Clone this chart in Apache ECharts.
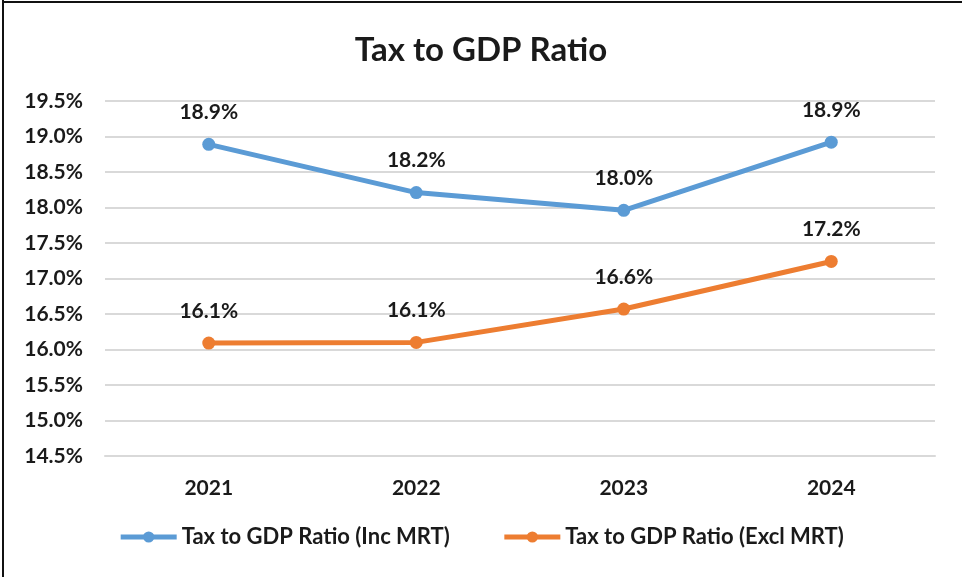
<!DOCTYPE html>
<html>
<head>
<meta charset="utf-8">
<script src="https://cdn.jsdelivr.net/npm/echarts@6/dist/echarts.min.js"></script>
<style>
html,body{margin:0;padding:0;background:#fff;}
#c{width:962px;height:577px;}
</style>
</head>
<body>
<div id="c"></div>
<script>
const categories = ['2021', '2022', '2023', '2024'];
const incMRT = [18.89, 18.21, 17.96, 18.92];
const exclMRT = [16.09, 16.10, 16.57, 17.24];
const seriesNames = ['Tax to GDP Ratio (Inc MRT)', 'Tax to GDP Ratio (Excl MRT)'];
const yTicks = { min: 14.5, max: 19.5, interval: 0.5 };

const FONT = 'Lato';
const TXT = '#1a1a1a';
const chart = echarts.init(document.getElementById('c'));
const lbl = {
  show: true, position: 'top', distance: 15,
  fontFamily: FONT, fontWeight: 'bold', fontSize: 21, color: TXT,
  formatter: p => p.value.toFixed(1) + '%'
};
chart.setOption({
  backgroundColor: '#fff',
  animation: false,
  title: {
    text: 'Tax to GDP Ratio', left: 'center', top: 29,
    textStyle: { fontFamily: FONT, fontWeight: 'bold', fontSize: 33, color: TXT }
  },
  graphic: [
    { type: 'line', shape: { x1: 3, y1: 0, x2: 3, y2: 577 }, style: { stroke: '#111', lineWidth: 2 } },
    { type: 'line', shape: { x1: 2, y1: 2, x2: 962, y2: 2 }, style: { stroke: '#111', lineWidth: 2 } }
  ],
  legend: {
    bottom: 24, left: 'center', itemWidth: 56, itemHeight: 14, itemGap: 52,
    lineStyle: { width: 5 },
    textStyle: { fontFamily: FONT, fontWeight: 'bold', fontSize: 22, color: TXT },
    data: seriesNames
  },
  grid: { left: 105, right: 27, top: 101, bottom: 121, containLabel: false },
  xAxis: {
    type: 'category', data: categories, boundaryGap: true,
    axisLine: { show: true, lineStyle: { color: '#D9D9D9', width: 2 } },
    axisTick: { show: false },
    axisLabel: { margin: 22, fontFamily: FONT, fontWeight: 'bold', fontSize: 21, color: TXT }
  },
  yAxis: {
    type: 'value', min: yTicks.min, max: yTicks.max, interval: yTicks.interval,
    axisLine: { show: false }, axisTick: { show: false },
    splitLine: { lineStyle: { color: '#D9D9D9', width: 2 } },
    axisLabel: { margin: 22, fontFamily: FONT, fontWeight: 'bold', fontSize: 21, color: TXT,
      formatter: v => v.toFixed(1) + '%' }
  },
  series: [
    { name: seriesNames[0], type: 'line', data: incMRT, symbol: 'circle', symbolSize: 13,
      lineStyle: { width: 5, color: '#5B9BD5' }, itemStyle: { color: '#5B9BD5' }, label: lbl },
    { name: seriesNames[1], type: 'line', data: exclMRT, symbol: 'circle', symbolSize: 13,
      lineStyle: { width: 5, color: '#ED7D31' }, itemStyle: { color: '#ED7D31' }, label: lbl }
  ]
});
</script>
</body>
</html>
